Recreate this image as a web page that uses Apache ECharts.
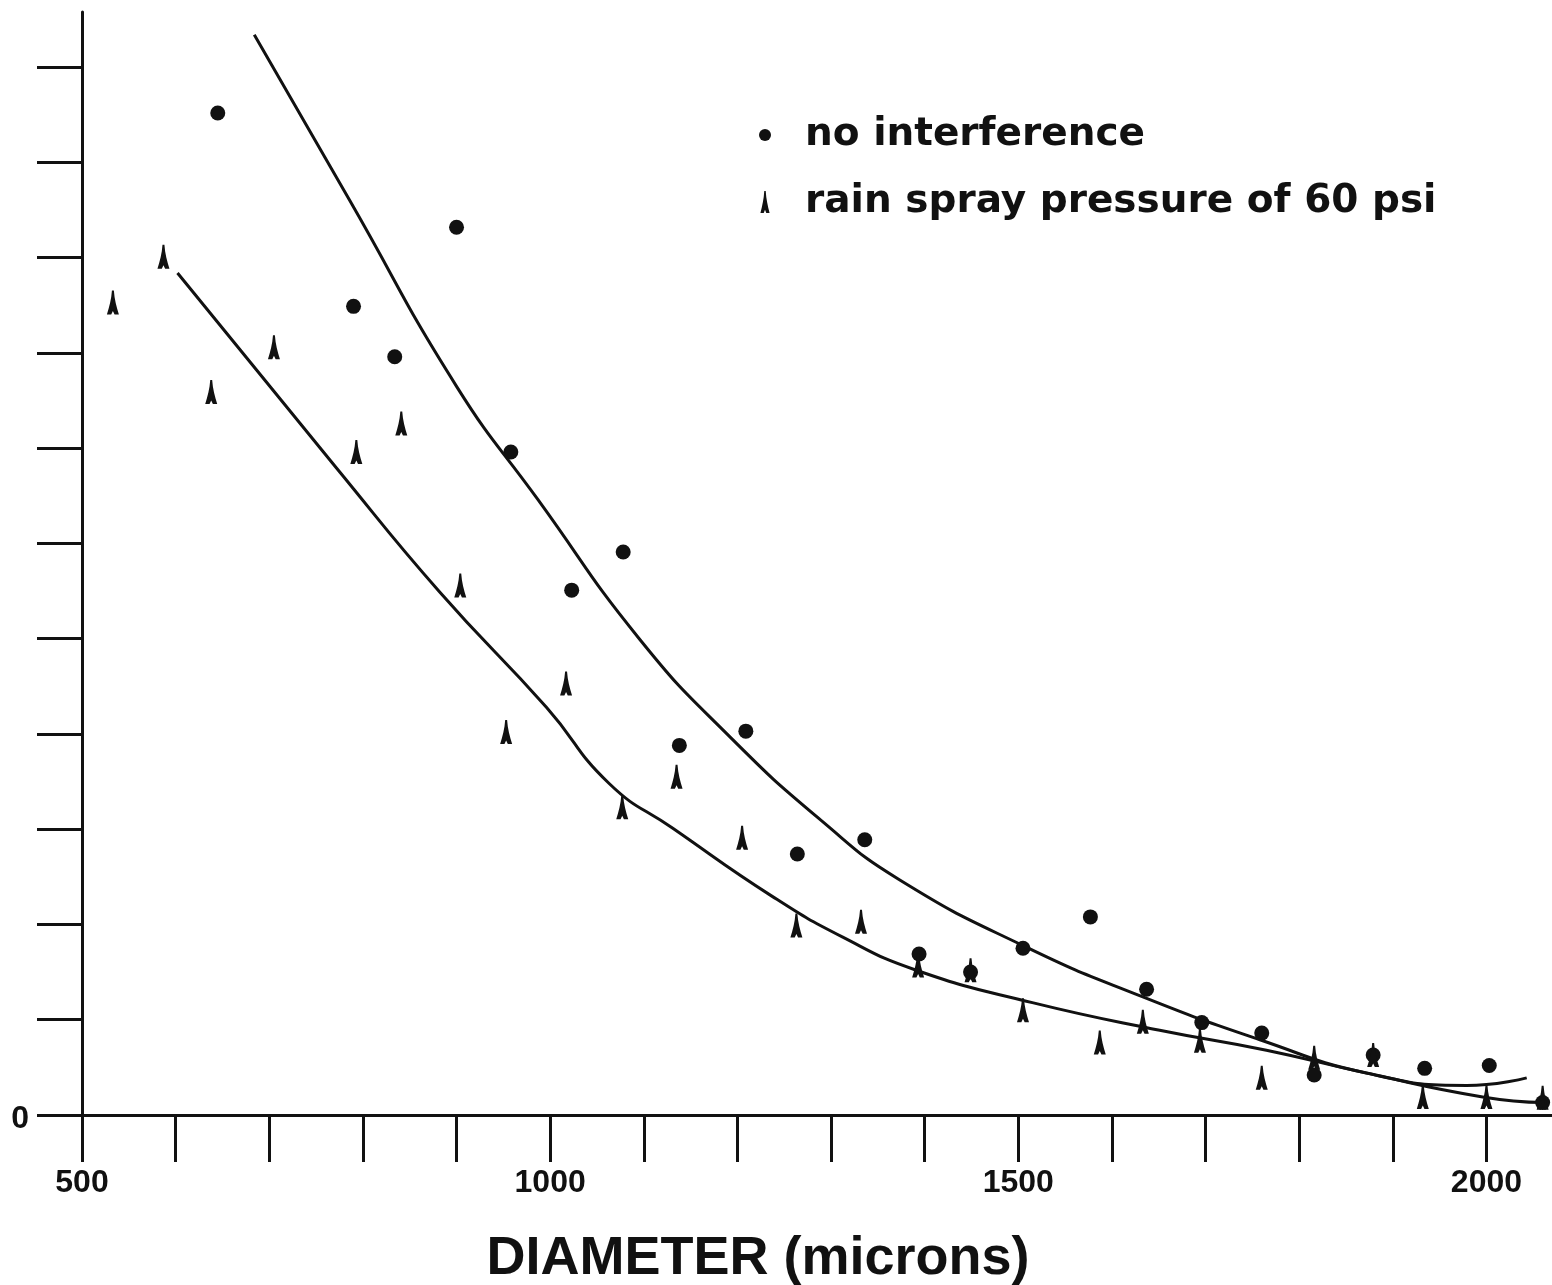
<!DOCTYPE html>
<html>
<head>
<meta charset="utf-8">
<script src="https://cdn.jsdelivr.net/npm/echarts@6/dist/echarts.min.js"></script>
<style>
  html, body { margin: 0; padding: 0; background: #fff; }
  #chart { width: 1552px; height: 1285px; }
</style>
</head>
<body>
<div id="chart"></div>
<script>
// ===== data =====

// no interference (filled dots)
const DOT_X = [645, 900, 790, 834, 958, 1078, 1023, 1138, 1209, 1264, 1336, 1394,
  1449, 1505, 1577, 1637, 1696, 1760, 1816, 1879, 1934, 2003, 2060];
const DOT_Y = [10.52, 9.32, 8.49, 7.96, 6.96, 5.91, 5.51, 3.88, 4.03, 2.74, 2.89, 1.69,
  1.50, 1.75, 2.08, 1.32, 0.97, 0.86, 0.42, 0.63, 0.49, 0.52, 0.13];

// rain spray pressure of 60 psi (spike markers)
const SPIKE_X = [533, 587, 638, 705, 793, 841, 904, 953, 1017, 1077, 1135, 1205, 1263,
  1332, 1393, 1449, 1505, 1587, 1633, 1694, 1760, 1816, 1879, 1932, 2000, 2060];
const SPIKE_Y = [8.53, 9.01, 7.59, 8.06, 6.96, 7.26, 5.56, 4.02, 4.53, 3.23, 3.55, 2.91, 1.99,
  2.03, 1.57, 1.52, 1.10, 0.76, 0.98, 0.78, 0.39, 0.60, 0.63, 0.19, 0.19, 0.18];

// hand-drawn fitted curves
const UPPER_X = [684, 786, 900, 987, 1096, 1192, 1291, 1373, 1509, 1633, 1758, 1872, 1979, 2043];
const UPPER_Y = [11.34, 9.60, 7.65, 6.46, 4.99, 3.97, 3.08, 2.47, 1.76, 1.24, 0.79, 0.44, 0.31, 0.39];
const LOWER_X = [602, 772, 882, 996, 1063, 1131, 1238, 1312, 1391, 1515, 1651, 1765, 1872, 1996, 2062];
const LOWER_Y = [8.84, 6.79, 5.49, 4.28, 3.48, 3.01, 2.29, 1.87, 1.52, 1.18, 0.89, 0.68, 0.44, 0.19, 0.13];

// axes
const X_TICKS = [500, 600, 700, 800, 900, 1000, 1100, 1200, 1300, 1400, 1500, 1600, 1700, 1800, 1900, 2000];
const X_LABELS = [500, 1000, 1500, 2000];
const Y_TICKS = [0, 1, 2, 3, 4, 5, 6, 7, 8, 9, 10, 11];
const Y_LABELS = [0];

const INK = '#111';
const SPIKE = 'path://M4.2,0 L5.8,0 C6.3,9 8,16 10,24 L6.4,24 L5,20.5 L3.6,24 L0,24 C2,16 3.7,9 4.2,0 Z';
const TICK_FONT = "'Liberation Sans', Arial, sans-serif";

const zip = (xs, ys) => xs.map((x, i) => [x, ys[i]]);

const chart = echarts.init(document.getElementById('chart'));

const option = {
  backgroundColor: '#fff',
  animation: false,
  grid: { left: 82, right: 0, top: 12, bottom: 170, outerBoundsMode: 'none' },
  legend: {
    data: ['no interference', 'rain spray pressure of 60 psi'],
    orient: 'vertical',
    left: 754,
    top: 110,
    itemWidth: 12,
    itemHeight: 22,
    itemGap: 27,
    textStyle: {
      fontFamily: "'DejaVu Sans', sans-serif",
      fontWeight: 'bold',
      fontSize: 39,
      lineHeight: 40,
      color: INK,
      padding: [0, 0, 0, 29],
    },
  },
  xAxis: {
    type: 'value',
    min: 500,
    max: 2070,
    name: 'DIAMETER (microns)',
    nameLocation: 'middle',
    nameGap: 117,
    nameTextStyle: {
      fontFamily: "'Liberation Sans', Arial, sans-serif",
      fontWeight: 'bold',
      fontSize: 54,
      lineHeight: 54,
      color: INK,
      padding: [0, 118, 0, 0],
    },
    axisLine: { lineStyle: { color: INK, width: 3 } },
    axisTick: { customValues: X_TICKS, length: 47, lineStyle: { color: INK, width: 3 } },
    axisLabel: {
      customValues: X_LABELS,
      formatter: v => String(v),
      margin: 52,
      fontFamily: TICK_FONT,
      fontWeight: 'bold',
      fontSize: 32,
      lineHeight: 32,
      color: INK,
    },
    splitLine: { show: false },
  },
  yAxis: {
    type: 'value',
    min: 0,
    max: 11.58,
    axisLine: { show: true, lineStyle: { color: INK, width: 3 } },
    axisTick: { show: true, customValues: Y_TICKS, length: 45, lineStyle: { color: INK, width: 3 } },
    axisLabel: {
      customValues: Y_LABELS,
      formatter: v => String(v),
      margin: 53,
      verticalAlign: 'top',
      lineHeight: 8,
      fontFamily: TICK_FONT,
      fontWeight: 'bold',
      fontSize: 32,
      color: INK,
    },
    splitLine: { show: false },
  },
  series: [
    {
      name: 'upper curve',
      type: 'line',
      data: zip(UPPER_X, UPPER_Y),
      smooth: 0.5,
      symbol: 'none',
      lineStyle: { color: INK, width: 3 },
    },
    {
      name: 'lower curve',
      type: 'line',
      data: zip(LOWER_X, LOWER_Y),
      smooth: 0.5,
      symbol: 'none',
      lineStyle: { color: INK, width: 3 },
    },
    {
      name: 'no interference',
      type: 'scatter',
      data: zip(DOT_X, DOT_Y),
      symbol: 'circle',
      symbolSize: 15,
      itemStyle: { color: INK, opacity: 1 },
    },
    {
      name: 'rain spray pressure of 60 psi',
      type: 'scatter',
      data: zip(SPIKE_X, SPIKE_Y),
      symbol: SPIKE,
      symbolSize: [12, 24],
      itemStyle: { color: INK, opacity: 1 },
    },
  ],
};

chart.setOption(option);
window.addEventListener('resize', () => chart.resize());
</script>
</body>
</html>
